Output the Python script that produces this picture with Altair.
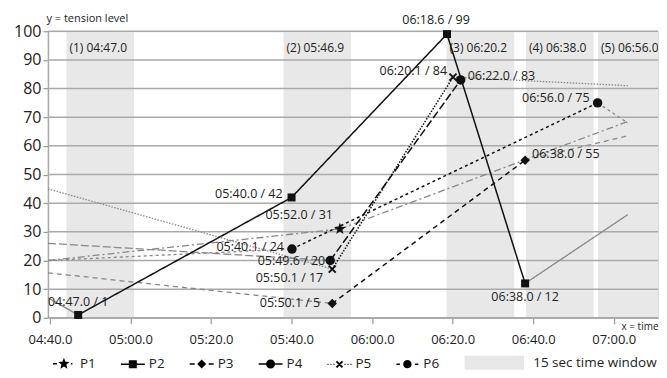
import math
import altair as alt
import pandas as pd

FONT = "Open Sans"

# ---------------- data ----------------
series = ["P1", "P2", "P3", "P4", "P5", "P6"]

# observed points (time in seconds, tension level)
pt_series = ["P1", "P2", "P2", "P2", "P2", "P3", "P3", "P4", "P4", "P5", "P5", "P6", "P6"]
pt_time = [352.0, 287.0, 340.0, 378.6, 398.0, 350.1, 398.0, 349.6, 382.0, 350.1, 380.1, 340.1, 416.0]
pt_level = [31, 1, 42, 99, 12, 5, 55, 20, 83, 17, 84, 24, 75]

# grey continuation lines towards the plot edges
edge_left_time = 279.5
edge_right_time = 423.5
left_level = [20, 7, 15.7, 26, 45, 20]
right_level = [68.5, 36, 63.5, None, 81, 68]

# 15 sec time windows
window_names = ["(1) 04:47.0", "(2) 05:46.9", "(3) 06:20.2", "(4) 06:38.0", "(5) 06:56.0"]
window_start = [284.1, 338.0, 378.5, 398.2, 416.1]
window_len = 16.8
window_legend = "15 sec time window"

x_ticks = [280, 300, 320, 340, 360, 380, 400, 420]
y_ticks = list(range(0, 101, 10))

# ---------------- styles ----------------
dashes = {"P1": [7, 3, 2, 3], "P2": [1, 0], "P3": [5, 4], "P4": [8, 3],
          "P5": [1.5, 1.5], "P6": [3, 3]}
# label placement (align, dx, dy) for each observed point, same order as above
label_style = [("right", -7, -14), ("center", 0, -13), ("right", -9, -3),
               ("center", -11, -14), ("center", 0, 14), ("right", -12, 0),
               ("left", 7, -6), ("right", -5, 1), ("left", 7, -4),
               ("right", -9, 9), ("right", -6, -6), ("right", -8, -2),
               ("right", -8, -5)]


def fmt_time(t):
    m = int(t // 60)
    s = t - 60 * m
    return f"{m:02d}:{s:04.1f}"


pts = pd.DataFrame({"series": pt_series, "t": pt_time, "v": pt_level})
pts["label"] = [f"{fmt_time(t)} / {v}" for t, v in zip(pt_time, pt_level)]
pts["idx"] = range(len(pts))

# grey line data
grey_rows = []
for s, lv, rv in zip(series, left_level, right_level):
    sub = pts[pts.series == s].sort_values("t")
    first = sub.iloc[0]
    last = sub.iloc[-1]
    grey_rows.append({"series": s, "seg": s + "L", "t": edge_left_time, "v": lv})
    grey_rows.append({"series": s, "seg": s + "L", "t": first.t, "v": first.v})
    if rv is not None:
        grey_rows.append({"series": s, "seg": s + "R", "t": last.t, "v": last.v})
        grey_rows.append({"series": s, "seg": s + "R", "t": edge_right_time, "v": rv})
grey = pd.DataFrame(grey_rows)

windows = pd.DataFrame({"name": window_names, "start": window_start})
windows["end"] = windows["start"] + window_len
windows["wlabel"] = window_legend

grid = pd.DataFrame({"v": y_ticks})

# ---------------- scales / axes ----------------
W, H = 611, 287
xscale = alt.Scale(domain=[279.5, 431], nice=False, zero=False)
yscale = alt.Scale(domain=[0, 100], nice=False, zero=True)

xaxis = alt.Axis(
    values=x_ticks, grid=False,
    labelExpr="pad(toString(floor(datum.value/60)), 2, '0', 'left') + ':' + pad(format(datum.value % 60, '.1f'), 4, '0', 'left')",
    labelFontSize=13, labelColor="#222", labelPadding=10, labelFont=FONT,
    tickSize=6, tickColor="#999", tickWidth=1.2,
    domainColor="#aaa", domainWidth=1.5,
    title="x = time", titleX=W, titleY=9, titleAlign="right", titleBaseline="middle",
    titleFontSize=10, titleFontWeight="normal", titleColor="#222", titleFont=FONT,
)
yaxis = alt.Axis(
    values=y_ticks, grid=False,
    labelFontSize=16, labelColor="#222", labelPadding=2, labelFont=FONT,
    tickSize=5, tickColor="#999", tickWidth=1.2,
    domainColor="#aaa", domainWidth=1.5,
    title="y = tension level", titleAngle=0, titleX=-2, titleY=-13,
    titleAlign="left", titleBaseline="middle", titleFontSize=11,
    titleFontWeight="normal", titleColor="#222", titleFont=FONT,
)


def X(f):
    return alt.X(f, type="quantitative", scale=xscale, axis=xaxis)


def Y(f):
    return alt.Y(f, type="quantitative", scale=yscale, axis=yaxis)


# ---------------- marker / legend paths (all filled shapes) ----------------
def poly(points):
    # make all polygons counter-clockwise so overlapping parts stay filled
    area = sum(points[i][0] * points[(i + 1) % len(points)][1]
               - points[(i + 1) % len(points)][0] * points[i][1] for i in range(len(points)))
    if area < 0:
        points = points[::-1]
    return "M" + "L".join(f"{x:.3f},{y:.3f}" for x, y in points) + "Z"


def star_path(cx, r, ri):
    p = []
    for k in range(10):
        ang = math.radians(-90 + 36 * k)
        rr = r if k % 2 == 0 else ri
        p.append((cx + rr * math.cos(ang), rr * math.sin(ang)))
    return poly(p)


def circle_path(cx, r):
    return f"M{cx + r:.3f},0A{r:.3f},{r:.3f} 0 1,1 {cx - r:.3f},0A{r:.3f},{r:.3f} 0 1,1 {cx + r:.3f},0Z"


def square_path(cx, r):
    return poly([(cx - r, -r), (cx + r, -r), (cx + r, r), (cx - r, r)])


def diamond_path(cx, r):
    return poly([(cx - r, 0), (cx, -r), (cx + r, 0), (cx, r)])


def bar(x0, y0, x1, y1, w):
    dx, dy = x1 - x0, y1 - y0
    L = math.hypot(dx, dy)
    nx, ny = -dy / L * w, dx / L * w
    return poly([(x0 + nx, y0 + ny), (x1 + nx, y1 + ny), (x1 - nx, y1 - ny), (x0 - nx, y0 - ny)])


def cross_path(cx, r, w):
    return bar(cx - r, -r, cx + r, r, w) + bar(cx - r, r, cx + r, -r, w)


def segs(cx, pieces, w):
    return "".join(bar(cx + a, 0, cx + b, 0, w) for a, b in pieces)


U = 7.0  # px per legend symbol unit (symbolSize 196)
m = -5 / U
lw = 0.75 / U
leg_pieces = [
    [(-11, -7), (7, 8.5)],
    [(-12, 12)],
    [(-12, -7), (7, 12)],
    [(-12, -3), (3, 12)],
    [(-12, -11), (-9, -8), (-6, -5), (5, 6), (8, 9), (11, 12)],
    [(-11, -7.5), (7.5, 11)],
]
leg_markers = [
    star_path(m, 6 / U, 2.6 / U),
    square_path(m, 4 / U),
    diamond_path(m, 4.5 / U),
    circle_path(m, 4.5 / U),
    cross_path(m, 3 / U, 1 / U),
    circle_path(m, 4.2 / U),
]
legend_paths = [segs(m, [(a / U, b / U) for a, b in pc], lw) + mk
                for pc, mk in zip(leg_pieces, leg_markers)]
window_symbol = "M-8.1,-1L0.4,-1L0.4,1L-8.1,1Z"

# ---------------- layers ----------------
bands = alt.Chart(windows).mark_rect(clip=True).encode(
    x=X("start"), x2="end",
    y=alt.value(0), y2=alt.value(H),
    fill=alt.Fill("wlabel:N", scale=alt.Scale(domain=[window_legend], range=["#e8e8e8"]),
                  legend=alt.Legend(title=None, orient="none", legendX=467, legendY=325,
                                    symbolType=window_symbol, symbolSize=196,
                                    symbolStrokeWidth=0, labelFontSize=13.5,
                                    labelFont=FONT, labelColor="#222", labelOffset=5,
                                    padding=0)),
)

band_text = alt.Chart(windows).mark_text(
    align="left", baseline="middle", dx=3, fontSize=12, font=FONT, color="#222", clip=True
).encode(x=X("start"), y=alt.value(17), text="name:N")

gridlines = alt.Chart(grid).mark_rule(color="#aaa", strokeWidth=1.5).encode(y=Y("v"))

grey_layers = []
black_layers = []
for s in series:
    grey_layers.append(
        alt.Chart(grey).transform_filter(alt.datum.series == s)
        .mark_line(color="#888", strokeWidth=1.3, strokeDash=dashes[s])
        .encode(x=X("t"), y=Y("v"), detail="seg:N")
    )
    if (pts.series == s).sum() > 1:
        black_layers.append(
            alt.Chart(pts).transform_filter(alt.datum.series == s)
            .mark_line(color="#111", strokeWidth=1.5, strokeDash=dashes[s])
            .encode(x=X("t"), y=Y("v"))
        )

marker_defs = {
    "P1": dict(shape=star_path(0, 1, 0.43), size=150, filled=True),
    "P2": dict(shape="square", size=64, filled=True),
    "P3": dict(shape="diamond", size=90, filled=True),
    "P4": dict(shape="circle", size=90, filled=True),
    "P5": dict(shape="M-1,-1L1,1M-1,1L1,-1", size=49, filled=False, strokeWidth=2),
    "P6": dict(shape="circle", size=90, filled=True),
}
point_layers = []
for s in series:
    point_layers.append(
        alt.Chart(pts).transform_filter(alt.datum.series == s)
        .mark_point(color="#111", opacity=1, **marker_defs[s])
        .encode(x=X("t"), y=Y("v"))
    )

label_layers = []
for i, (al, dx, dy) in enumerate(label_style):
    label_layers.append(
        alt.Chart(pts).transform_filter(alt.datum.idx == i)
        .mark_text(align=al, dx=dx, dy=dy, baseline="middle", fontSize=12.5,
                   font=FONT, color="#222")
        .encode(x=X("t"), y=Y("v"), text="label:N")
    )

first_pts = pts.groupby("series", as_index=False).first()
legend_layer = alt.Chart(first_pts).mark_point(
    filled=True, color="black", opacity=0, size=196
).encode(
    x=X("t"), y=Y("v"),
    shape=alt.Shape("series:N", scale=alt.Scale(domain=series, range=legend_paths),
                    legend=alt.Legend(title=None, orient="none", legendX=13, legendY=325,
                                      direction="horizontal", columns=6, symbolSize=196,
                                      symbolOpacity=1, symbolFillColor="black",
                                      labelFontSize=13.5, labelFont=FONT, labelColor="#222",
                                      labelOffset=3, columnPadding=21, padding=0)),
)

chart = alt.layer(
    bands, band_text, gridlines, *grey_layers, *black_layers,
    *point_layers, *label_layers, legend_layer,
).properties(
    width=W, height=H,
    padding={"left": 5, "top": 4, "right": 0, "bottom": 0},
).configure_view(stroke=None).configure(font=FONT)

chart.save("out.html", embed_options={"renderer": "svg", "actions": False})
